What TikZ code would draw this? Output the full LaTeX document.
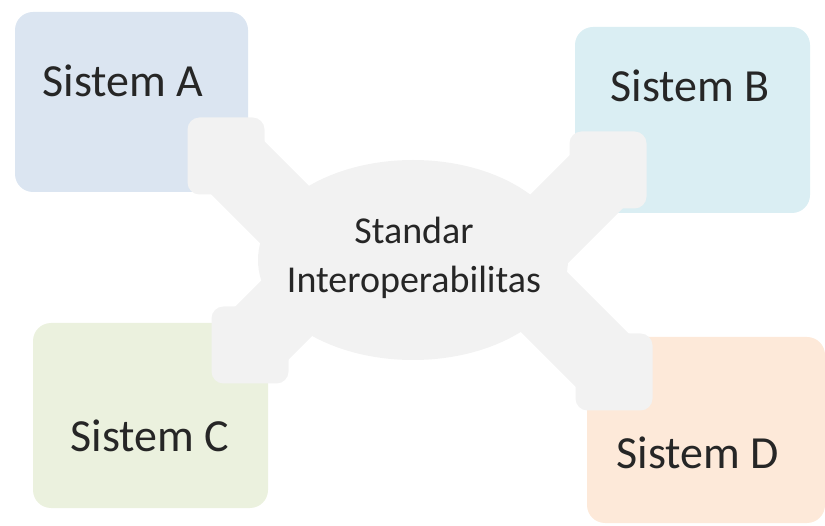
\documentclass[tikz,border=0pt]{standalone}
\usepackage{fontspec}
\setmainfont{Carlito}
\usetikzlibrary{positioning,shapes.geometric}
\definecolor{sysa}{HTML}{DBE5F1}
\definecolor{sysb}{HTML}{DAEEF3}
\definecolor{sysc}{HTML}{EBF1DE}
\definecolor{sysd}{HTML}{FDE9D9}
\definecolor{hubx}{HTML}{F2F2F2}
\definecolor{txt}{HTML}{262626}
\tikzset{
  sysbox/.style={rectangle,draw=none,rounded corners=18pt,inner sep=0pt},
  lbl/.style={text=txt,font=\fontsize{46}{55}\selectfont,inner sep=0pt,anchor=base},
  hub/.style={ellipse,fill=hubx,draw=none,minimum width=310pt,minimum height=200pt,inner sep=0pt},
  armend/.style={rectangle,fill=hubx,draw=none,rounded corners=12pt,minimum size=77pt,inner sep=0pt},
  arm/.style={line width=75pt,hubx}
}

\begin{document}
\begin{tikzpicture}[x=1pt,y=-1pt]
\useasboundingbox (0,0) rectangle (825,526);
% boxes
\node[sysbox,fill=sysa,minimum width=233pt,minimum height=180pt] (boxA) at (131.5,102) {};
\node[sysbox,fill=sysb,minimum width=235pt,minimum height=186pt] (boxB) at (692.5,120) {};
\node[sysbox,fill=sysc,minimum width=235pt,minimum height=185pt] (boxC) at (150.5,415.5) {};
\node[sysbox,fill=sysd,minimum width=238pt,minimum height=186pt] (boxD) at (706,430) {};
% hub and arms
\node[hub] (hub) at (413,260) {};
\node[armend] (endA) at (226,156) {};
\node[armend] (endB) at (608,170) {};
\node[armend] (endC) at (250,345) {};
\node[armend] (endD) at (614,372) {};
\coordinate (inA) at (360,290);
\coordinate (inB) at (478,300);
\coordinate (inC) at (382,213);
\coordinate (inD) at (482,240);
\draw[arm] (endA.center) -- (inA);
\draw[arm] (endB.center) -- (inB);
\draw[arm] (endC.center) -- (inC);
\draw[arm] (endD.center) -- (inD);
% labels
\node[lbl] (sisA) at (123,97) {Sistem A};
\node[lbl] (sisB) at (690,102) {Sistem B};
\node[lbl] (sisC) at (150,452) {Sistem C};
\node[lbl] (sisD) at (698,468) {Sistem D};
\node[text=txt,font=\fontsize{38}{49}\selectfont,align=center,inner sep=0pt] (std) at (414,258) {Standar\\Interoperabilitas};
\end{tikzpicture}
\end{document}
